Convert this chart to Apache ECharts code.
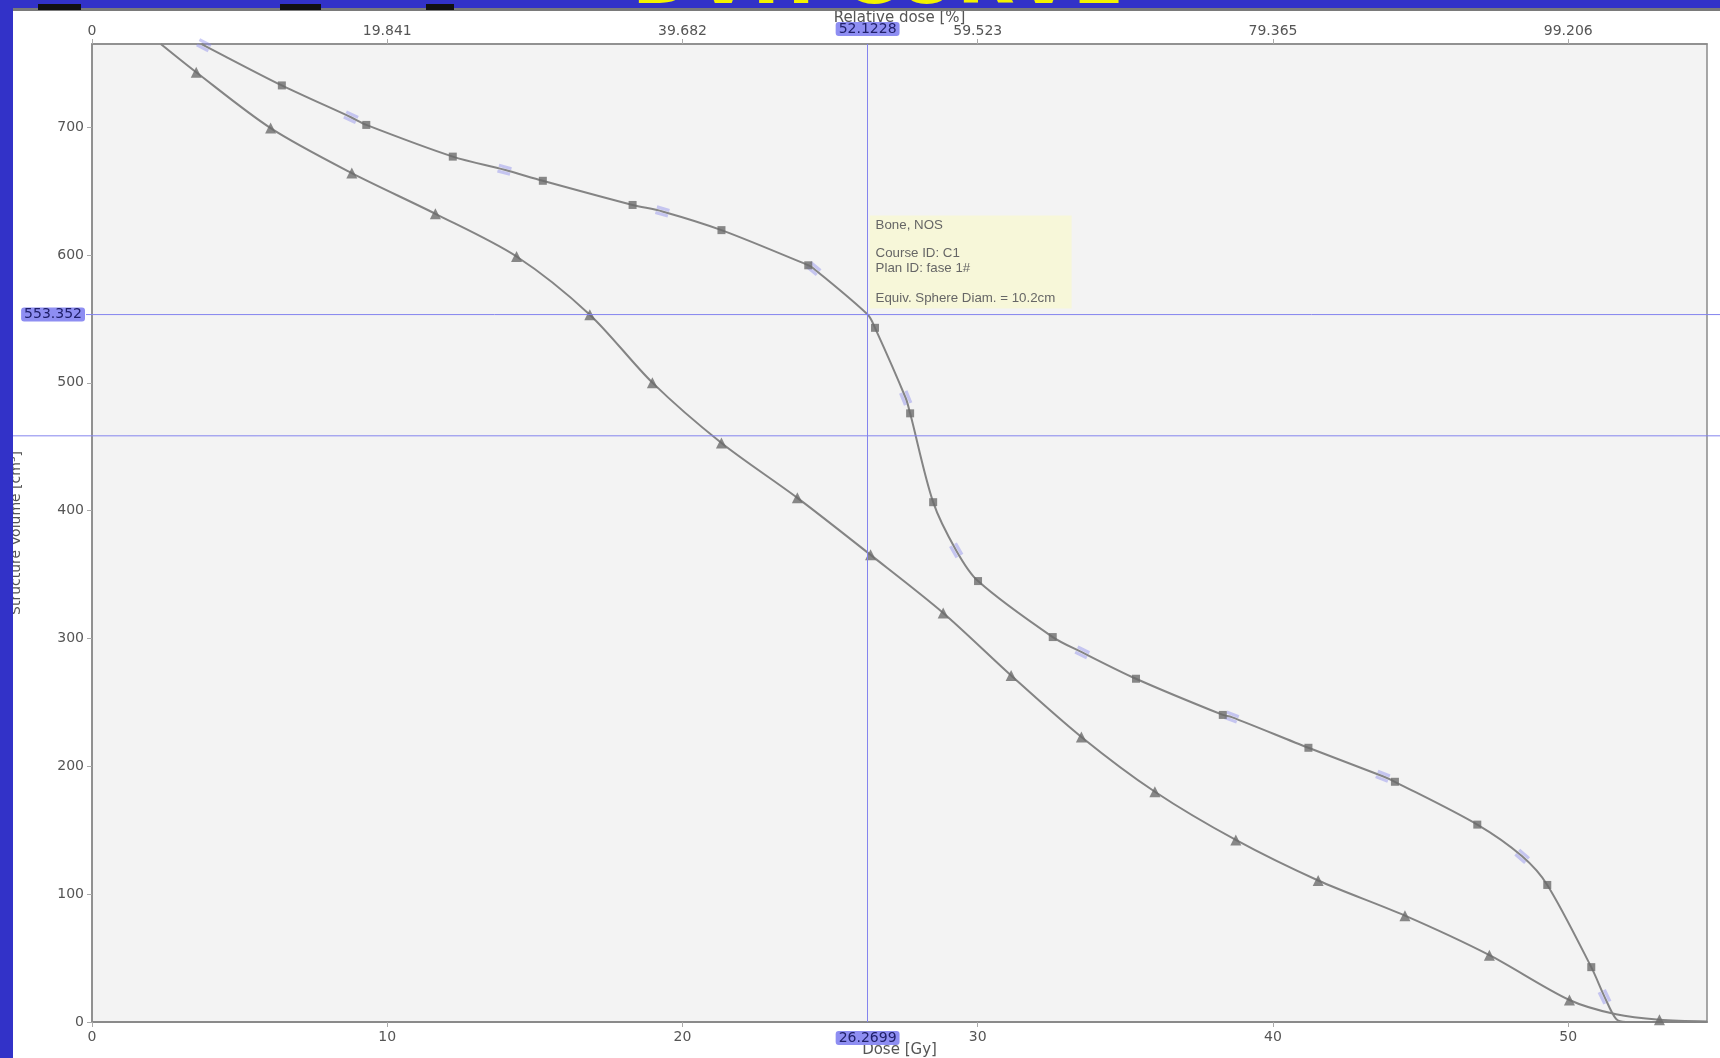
<!DOCTYPE html>
<html>
<head>
<meta charset="utf-8">
<script src="https://cdn.jsdelivr.net/npm/echarts@6/dist/echarts.min.js"></script>
<style>
  html, body { margin: 0; padding: 0; background: #ffffff; }
  #chart { width: 1720px; height: 1058px; }
</style>
</head>
<body>
<div id="chart"></div>
<script>
// Dose axis ticks (Gy) and the relative-dose labels (% of 50.4 Gy) shown on the top axis
const doseTicks = [0, 10, 20, 30, 40, 50];
const relTickLabels = ['0', '19.841', '39.682', '59.523', '79.365', '99.206'];
const prescriptionGy = 50.4;

// Curve with square markers
const squareDose = [6.43, 9.29, 12.22, 15.27, 18.31, 21.32, 24.26, 26.52, 27.71, 28.49, 30.01, 32.54, 35.36, 38.30, 41.20, 44.13, 46.92, 49.29, 50.78];
const squareVol  = [732.6, 701.7, 676.9, 658.0, 639.1, 619.4, 591.9, 543.0, 476.1, 406.6, 344.9, 301.1, 268.5, 240.2, 214.5, 187.9, 154.4, 107.2, 42.9];
// points where the square curve leaves the top edge and runs out along the dose axis
const squareEndDose = [3.71, 51.62, 51.95, 54.7];
const squareEndVol  = [765, 2.4, 0, 0];

// light break marks sitting on the square curve
const hashDose = [3.79, 8.77, 13.97, 19.32, 24.44, 27.56, 29.27, 33.54, 38.60, 43.72, 48.44, 51.23];
const hashVol  = [764.0, 707.7, 666.6, 634.0, 589.4, 488.1, 368.9, 289.1, 238.5, 192.2, 129.6, 19.7];

// Curve with triangle markers
const triDose = [3.53, 6.05, 8.80, 11.63, 14.38, 16.86, 18.98, 21.32, 23.89, 26.37, 28.83, 31.13, 33.51, 36.00, 38.74, 41.53, 44.47, 47.33, 50.04, 53.09];
const triVol  = [742.9, 699.2, 664.0, 632.2, 598.8, 553.3, 500.1, 452.9, 410.0, 365.4, 320.0, 271.1, 223.0, 180.1, 142.4, 110.7, 83.2, 52.3, 17.2, 1.7];
const triEndDose = [2.33, 51.62, 54.7];
const triEndVol  = [765, 6.0, 0.4];

// Crosshair readout
const crossDose = 26.2699;
const crossVol = 553.352;
const secondLineVol = 458.5;

// Info box lines
const infoLines = ['Bone, NOS', '', 'Course ID: C1', 'Plan ID: fase 1#', '', 'Equiv. Sphere Diam. = 10.2cm'];

function mergeCurve(...parts) {
  const pts = [];
  parts.forEach(([xs, ys]) => xs.forEach((x, i) => pts.push([x, ys[i]])));
  pts.sort((a, b) => a[0] - b[0]);
  return pts;
}
const zip = (xs, ys) => xs.map((x, i) => [x, ys[i]]);

const squareLine = mergeCurve([squareDose, squareVol], [hashDose, hashVol], [squareEndDose, squareEndVol], [[crossDose], [crossVol]]);
const triLine = mergeCurve([triDose, triVol], [triEndDose, triEndVol]);

const curveColor = '#848484';
const markerColor = '#6c6c6c';
const pointerColor = '#8484ee';
const labelFont = 'DejaVu Sans';
const tickFontSize = 14;
const nameFontSize = 15;

const pointerLabel = {
  show: true,
  backgroundColor: '#8e8ef2',
  color: '#20206a',
  fontFamily: labelFont,
  fontSize: 14,
  padding: [0, 3],
  margin: 9
};

const chart = echarts.init(document.getElementById('chart'), null, { renderer: 'canvas' });

const option = {
  animation: false,
  backgroundColor: '#ffffff',
  grid: {
    left: 92, right: 13, top: 44, bottom: 36,
    outerBoundsMode: 'none',
    show: true,
    backgroundColor: '#f3f3f3',
    borderColor: '#8a8a8a',
    borderWidth: 1.5
  },
  xAxis: [
    {
      type: 'value', position: 'bottom',
      min: 0, max: 54.7, interval: 10,
      name: 'Dose [Gy]', nameLocation: 'middle', nameGap: 21, nameMoveOverlap: false,
      nameTextStyle: { color: '#555', fontFamily: labelFont, fontSize: nameFontSize },
      axisLine: { show: true, lineStyle: { color: '#8a8a8a', width: 2 } },
      axisTick: { show: true, length: 5, lineStyle: { color: '#aaa' } },
      axisLabel: { color: '#555', fontFamily: labelFont, fontSize: tickFontSize, margin: 8, showMaxLabel: false },
      splitLine: { show: false },
      axisPointer: {
        show: true, status: 'show', value: crossDose, snap: false, triggerTooltip: false,
        lineStyle: { color: pointerColor, width: 1, type: 'solid' },
        label: Object.assign({}, pointerLabel, { formatter: p => p.value.toFixed(4) })
      }
    },
    {
      type: 'value', position: 'top',
      min: 0, max: 54.7, interval: 10,
      name: 'Relative dose [%]', nameLocation: 'middle', nameGap: 18, nameMoveOverlap: false,
      nameTextStyle: { color: '#555', fontFamily: labelFont, fontSize: nameFontSize },
      axisLine: { show: true, lineStyle: { color: '#8a8a8a', width: 1.5 } },
      axisTick: { show: true, length: 5, lineStyle: { color: '#aaa' } },
      axisLabel: {
        color: '#555', fontFamily: labelFont, fontSize: tickFontSize, margin: 6, showMaxLabel: false,
        formatter: v => relTickLabels[doseTicks.indexOf(v)] ?? ''
      },
      splitLine: { show: false },
      axisPointer: {
        show: true, status: 'show', value: crossDose, snap: false, triggerTooltip: false,
        lineStyle: { color: pointerColor, width: 1, type: 'solid', opacity: 0 },
        label: Object.assign({}, pointerLabel, {
          margin: 8,
          formatter: p => (p.value * 100 / prescriptionGy).toFixed(4)
        })
      }
    }
  ],
  yAxis: {
    type: 'value', min: 0, max: 765, interval: 100,
    name: 'Structure Volume [cm³]', nameLocation: 'middle', nameGap: 69, nameRotate: 90, nameMoveOverlap: false,
    nameTextStyle: { color: '#555', fontFamily: labelFont, fontSize: 14 },
    axisLine: { show: true, lineStyle: { color: '#8a8a8a', width: 1.5 } },
    axisTick: { show: true, length: 5, lineStyle: { color: '#aaa' } },
    axisLabel: { color: '#555', fontFamily: labelFont, fontSize: tickFontSize, margin: 8, showMaxLabel: false },
    splitLine: { show: false },
    axisPointer: {
      show: true, status: 'show', value: crossVol, snap: false, triggerTooltip: false,
      lineStyle: { color: pointerColor, width: 1, type: 'solid', opacity: 0 },
      label: Object.assign({}, pointerLabel, { margin: 7, formatter: p => p.value.toFixed(3) })
    }
  },
  series: [
    {
      id: 'squareCurve', type: 'line', data: squareLine,
      smooth: 0.3, showSymbol: false, clip: true,
      lineStyle: { color: curveColor, width: 2 }, z: 3
    },
    {
      id: 'triCurve', type: 'line', data: triLine,
      smooth: 0.3, showSymbol: false, clip: true,
      lineStyle: { color: curveColor, width: 2 }, z: 3
    },
    {
      id: 'hash', type: 'scatter', data: zip(hashDose, hashVol),
      symbol: 'path://M0,0H12V3H0Z M0,5.5H12V8.5H0Z', symbolSize: [13, 9],
      itemStyle: { color: 'rgba(146,146,236,0.6)' }, z: 4
    },
    {
      id: 'squares', type: 'scatter', data: zip(squareDose, squareVol),
      symbol: 'rect', symbolSize: 8,
      itemStyle: { color: markerColor }, z: 5
    },
    {
      id: 'triangles', type: 'scatter', data: zip(triDose, triVol),
      symbol: 'triangle', symbolSize: 11,
      itemStyle: { color: markerColor }, z: 5
    }
  ]
};

chart.setOption(option);

// Second pass: pixel-based decorations derived from the axes' own scales
const toPx = p => chart.convertToPixel({ xAxisIndex: 0, yAxisIndex: 0 }, p);

// orient each break mark along the square curve
const hashData = hashDose.map((d, i) => {
  const idx = squareLine.findIndex(p => p[0] === d && p[1] === hashVol[i]);
  const a = toPx(squareLine[Math.max(0, idx - 1)]);
  const b = toPx(squareLine[Math.min(squareLine.length - 1, idx + 1)]);
  const ang = Math.atan2(-(b[1] - a[1]), b[0] - a[0]) * 180 / Math.PI;
  return { value: [d, hashVol[i]], symbolRotate: ang };
});

const cp = toPx([crossDose, crossVol]);
const yb = toPx([0, secondLineVol])[1];
const W = 1720;

const infoChildren = [
  { type: 'rect', shape: { x: 0, y: 0, width: 202, height: 93 }, style: { fill: '#f7f7d9' } }
];
const lineY = [10, 0, 38, 53, 0, 83];
infoLines.forEach((t, i) => {
  if (!t) return;
  infoChildren.push({
    type: 'text', x: 6, y: lineY[i],
    style: { text: t, fill: '#666', font: '13.3px "Liberation Sans", Arial, sans-serif', verticalAlign: 'middle' }
  });
});

chart.setOption({
  series: [{ id: 'hash', data: hashData }],
  graphic: [
    // horizontal crosshair line, running out to the right edge
    { type: 'line', shape: { x1: 86, y1: cp[1], x2: W, y2: cp[1] }, style: { stroke: pointerColor, lineWidth: 1 }, z: 20 },
    // second horizontal guide line
    { type: 'line', shape: { x1: 0, y1: yb, x2: W, y2: yb }, style: { stroke: pointerColor, lineWidth: 1 }, z: 20 },
    // info box next to the crosshair
    { type: 'group', x: cp[0] + 2, y: cp[1] - 99, children: infoChildren, z: 30 },
    // window frame: blue bands with heading text
    { type: 'rect', shape: { x: 0, y: 0, width: W, height: 8 }, style: { fill: '#3232c8' }, z: 40 },
    {
      type: 'text', x: 878, y: -16, z: 41,
      style: { text: 'DVH CURVE', fill: '#f2f200', font: 'bold 75px "DejaVu Sans"', align: 'center', verticalAlign: 'middle' }
    },
    { type: 'rect', shape: { x: 0, y: 8, width: W, height: 3 }, style: { fill: '#7a7a7a' }, z: 42 },
    { type: 'rect', shape: { x: 38, y: 4, width: 43, height: 6 }, style: { fill: '#111' }, z: 43 },
    { type: 'rect', shape: { x: 280, y: 4, width: 41, height: 6 }, style: { fill: '#111' }, z: 43 },
    { type: 'rect', shape: { x: 426, y: 4, width: 28, height: 6 }, style: { fill: '#111' }, z: 43 },
    { type: 'rect', shape: { x: 0, y: 0, width: 13, height: 1058 }, style: { fill: '#3232c8' }, z: 44 }
  ]
});
</script>
</body>
</html>
